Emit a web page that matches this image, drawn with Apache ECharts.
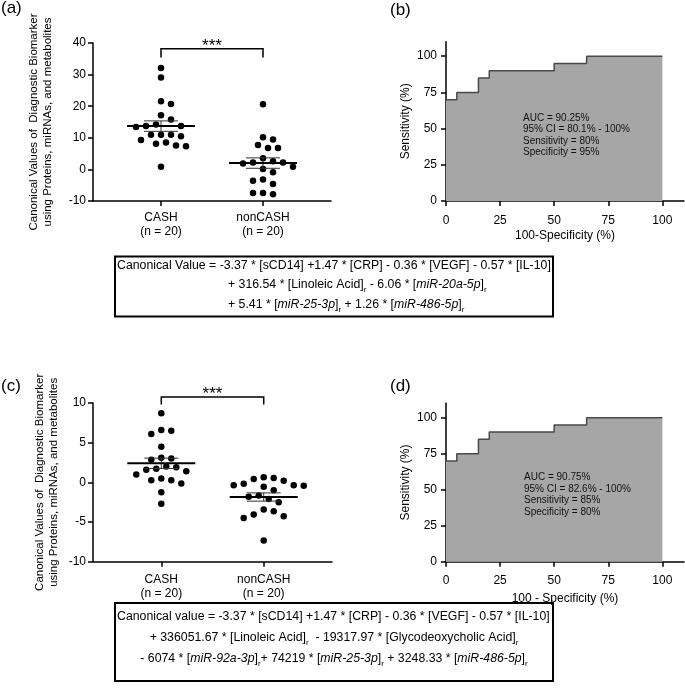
<!DOCTYPE html>
<html><head><meta charset="utf-8">
<script src="https://cdn.jsdelivr.net/npm/echarts@6/dist/echarts.min.js"></script>
<style>html,body{margin:0;padding:0;background:#fff}#c{width:685px;height:689px}</style>
</head><body><div id="c"></div>
<script>
// ---------- data ----------
const groups = ['CASH', 'nonCASH'];
const groupN = ['(n = 20)', '(n = 20)'];

const cashA = [32.1, 29.1, 21.6, 20.7, 17.1, 15.8, 14.2, 13.7, 13.7, 13.4, 11.0, 11.0, 11.0, 10.5, 9.3, 8.5, 8.1, 7.6, 7.3, 0.8];
const noncashA = [20.6, 10.2, 9.5, 7.7, 6.8, 6.8, 3.5, 2.6, 2.2, 2.2, 1.9, 0.8, 0.1, -0.9, -3.2, -3.6, -4.6, -7.5, -7.5, -7.9];
const meanA = [13.7, 2.0];
const semA = [1.65, 1.65];

const cashC = [8.7, 6.6, 6.5, 6.1, 4.5, 3.1, 3.0, 2.85, 2.0, 1.9, 1.7, 1.6, 1.4, 1.0, 0.5, 0.25, 0.25, -0.15, -1.25, -2.7];
const noncashC = [0.63, 0.54, 0.42, 0.2, -0.17, -0.38, -0.38, -0.42, -0.54, -1.0, -1.67, -1.8, -2.09, -2.5, -3.43, -3.64, -4.06, -4.27, -4.5, -7.32];
const meanC = [2.4, -1.85];
const semC = [0.65, 0.52];

const rocFprB = [0, 5, 15, 20, 50, 65, 100];
const rocTprB = [70, 75, 85, 90, 95, 100, 100];
const rocFprD = [0, 5, 15, 20, 50, 65, 100];
const rocTprD = [70, 75, 85, 90, 95, 100, 100];

const yTicksA = [-10, 0, 10, 20, 30, 40];
const yTicksC = [-10, -5, 0, 5, 10];
const rocTicks = [0, 25, 50, 75, 100];

const rocStatsB = ['AUC = 90.25%', '95% CI = 80.1% - 100%', 'Sensitivity = 80%', 'Specificity = 95%'];
const rocStatsD = ['AUC = 90.75%', '95% CI = 82.6% - 100%', 'Sensitivity = 85%', 'Specificity = 80%'];

const yTitleScatter = 'Canonical Values of  Diagnostic Biomarker\nusing Proteins, miRNAs, and metabolites';

// ---------- layout ----------
const F = "'Liberation Sans', Arial, Helvetica, sans-serif";
const G = {
  a: {left: 93, top: 43, width: 238, height: 158},
  b: {left: 446, top: 41.7, width: 238, height: 159.3},
  c: {left: 93, top: 403, width: 239, height: 158.7},
  d: {left: 446, top: 403.3, width: 238, height: 158.4}
};
const xMinS = 1 / 3, xMaxS = 8 / 3;

function swarm(vals, pxY, pxX, step, minD) {
  const order = vals.map((v, i) => i).sort((p, q) => vals[q] - vals[p]);
  const placed = [];
  const off = new Array(vals.length).fill(0);
  for (const i of order) {
    const y = vals[i] * pxY;
    for (let k = 0; k < 60; k++) {
      const m = k === 0 ? 0 : (k % 2 ? Math.ceil(k / 2) : -Math.ceil(k / 2));
      const x = m * step;
      if (placed.every(p => (p[0] - x) ** 2 + (p[1] - y) ** 2 >= minD * minD)) {
        placed.push([x, y]); off[i] = x / pxX; break;
      }
    }
  }
  return off;
}

function scatterData(lists, grid, yMin, yMax) {
  const pxY = grid.height / (yMax - yMin);
  const pxX = grid.width / (xMaxS - xMinS);
  const out = [];
  lists.forEach((vals, gi) => {
    const off = swarm(vals, pxY, pxX, 5, 9.2);
    vals.forEach((v, i) => out.push([gi + 1 + off[i], v]));
  });
  return out;
}

const axisLineS = {onZero: false, lineStyle: {color: '#000', width: 1.5}};
const tickS = {length: 5, lineStyle: {color: '#000', width: 1.5}};

function catX(gridIndex, margin) {
  return {
    type: 'value', gridIndex, min: xMinS, max: xMaxS,
    axisLine: axisLineS,
    axisTick: Object.assign({customValues: [1, 2]}, tickS),
    axisLabel: {
      customValues: [1, 2],
      formatter: v => groups[Math.round(v) - 1] + '\n' + groupN[Math.round(v) - 1],
      color: '#000', fontSize: 12, fontFamily: F, lineHeight: 13.5, margin
    },
    splitLine: {show: false}
  };
}
function valY(gridIndex, ticks, name, nameGap, nameSize, margin) {
  return {
    type: 'value', gridIndex, min: ticks[0], max: ticks[ticks.length - 1], interval: ticks[1] - ticks[0],
    axisLine: axisLineS, axisTick: tickS,
    axisLabel: {color: '#000', fontSize: 12, fontFamily: F, margin},
    splitLine: {show: false},
    name, nameLocation: 'middle', nameGap,
    nameTextStyle: {color: '#000', fontSize: nameSize, fontFamily: F, lineHeight: 14}
  };
}
function rocX(gridIndex, name, nameGap, margin) {
  return {
    type: 'value', gridIndex, min: 0, max: 110,
    axisLine: axisLineS,
    axisTick: Object.assign({customValues: rocTicks}, tickS),
    axisLabel: {customValues: rocTicks, color: '#000', fontSize: 12, fontFamily: F, margin},
    splitLine: {show: false},
    name, nameLocation: 'middle', nameGap,
    nameTextStyle: {color: '#000', fontSize: 12, fontFamily: F}
  };
}
function rocY(gridIndex) {
  return {
    type: 'value', gridIndex, min: 0, max: 110,
    axisLine: axisLineS,
    axisTick: Object.assign({customValues: rocTicks}, tickS),
    axisLabel: {customValues: rocTicks, color: '#000', fontSize: 12, fontFamily: F, margin: 9},
    splitLine: {show: false},
    name: 'Sensitivity (%)', nameLocation: 'middle', nameGap: 31,
    nameTextStyle: {color: '#000', fontSize: 12, fontFamily: F, lineHeight: 14}
  };
}

function meanSem(means, sems) {
  return means.map((m, i) => [i + 1, m, sems[i]]);
}
function meanSemRender(params, api) {
  const x = api.value(0), m = api.value(1), s = api.value(2);
  const c = api.coord([x, m]), hi = api.coord([x, m + s]), lo = api.coord([x, m - s]);
  const cap = 17, half = 34;
  return {
    type: 'group', children: [
      {type: 'line', shape: {x1: c[0], y1: hi[1], x2: c[0], y2: lo[1]}, style: {stroke: '#333', lineWidth: 1}},
      {type: 'line', shape: {x1: c[0] - cap, y1: hi[1], x2: c[0] + cap, y2: hi[1]}, style: {stroke: '#333', lineWidth: 1}},
      {type: 'line', shape: {x1: c[0] - cap, y1: lo[1], x2: c[0] + cap, y2: lo[1]}, style: {stroke: '#333', lineWidth: 1}},
      {type: 'line', shape: {x1: c[0] - half, y1: c[1], x2: c[0] + half, y2: c[1]}, style: {stroke: '#000', lineWidth: 2}}
    ]
  };
}
function bracketRender(params, api) {
  const p1 = api.coord([api.value(0), api.value(2)]);
  const p2 = api.coord([api.value(1), api.value(2)]);
  const e = api.coord([api.value(0), api.value(3)]);
  return {
    type: 'group', children: [
      {type: 'polyline', shape: {points: [[p1[0], e[1]], p1, p2, [p2[0], e[1]]]}, style: {stroke: '#000', lineWidth: 1.5, fill: null}},
      {type: 'text', x: (p1[0] + p2[0]) / 2, y: p1[1] + 6, style: {text: '***', align: 'center', verticalAlign: 'bottom', fontSize: 17, fontFamily: F, fill: '#000'}}
    ]
  };
}

function rocSeries(idx, fpr, tpr) {
  return {
    type: 'line', xAxisIndex: idx, yAxisIndex: idx, step: 'end', symbol: 'none', z: 2,
    data: fpr.map((x, i) => [x, tpr[i]]),
    lineStyle: {color: '#4a4a4a', width: 1.5},
    areaStyle: {color: '#a6a6a6', opacity: 1}
  };
}

const richBase = {
  t: {fontSize: 12.3, fontFamily: F, color: '#000', lineHeight: 18},
  i: {fontSize: 12.3, fontFamily: F, fontStyle: 'italic', color: '#000', lineHeight: 18},
  s: {fontSize: 8, fontFamily: F, color: '#000', lineHeight: 9, verticalAlign: 'bottom'}
};
const richStats = {
  a: {fontSize: 10, fontFamily: F, color: '#111', lineHeight: 11.4}
};
function ftext(str, x, y, align) {
  return {type: 'text', x, y, z: 100, silent: true, style: {text: str, align, verticalAlign: 'middle', rich: richBase, fill: '#000', fontFamily: F}};
}
function ptext(str, x, y) {
  return {type: 'text', x, y, z: 100, style: {text: str, align: 'left', verticalAlign: 'middle', fontSize: 17, fontFamily: F, fill: '#000'}};
}
function stext(lines, x, y) {
  return {type: 'text', x, y, z: 100, silent: true, style: {text: lines.map(l => '{a|' + l + '}').join('\n'), rich: richStats,
    align: 'left', verticalAlign: 'top', fontSize: 10, fontFamily: F, fill: '#111'}};
}

const option = {
  animation: false,
  backgroundColor: '#fff',
  grid: [G.a, G.b, G.c, G.d].map(g => Object.assign({containLabel: false}, g)),
  xAxis: [catX(0, 10.3), rocX(1, '100-Specificity (%)', 29, 14), catX(2, 11.5), rocX(3, '100 - Specificity (%)', 31, 13)],
  yAxis: [valY(0, yTicksA, yTitleScatter, 38.5, 11.5, 7), rocY(1), valY(2, yTicksC, yTitleScatter, 32, 11.5, 7), rocY(3)],
  series: [
    {type: 'scatter', xAxisIndex: 0, yAxisIndex: 0, symbolSize: 6.5, itemStyle: {color: '#000', opacity: 1}, z: 2,
     data: scatterData([cashA, noncashA], G.a, -10, 40)},
    {type: 'custom', xAxisIndex: 0, yAxisIndex: 0, z: 3, renderItem: meanSemRender, data: meanSem(meanA, semA)},
    {type: 'custom', xAxisIndex: 0, yAxisIndex: 0, z: 3, clip: false, renderItem: bracketRender, data: [[1, 2, 38.2, 35.4]]},
    rocSeries(1, rocFprB, rocTprB),
    {type: 'scatter', xAxisIndex: 2, yAxisIndex: 2, symbolSize: 6.5, itemStyle: {color: '#000', opacity: 1}, z: 2,
     data: scatterData([cashC, noncashC], G.c, -10, 10)},
    {type: 'custom', xAxisIndex: 2, yAxisIndex: 2, z: 3, renderItem: meanSemRender, data: meanSem(meanC, semC)},
    {type: 'custom', xAxisIndex: 2, yAxisIndex: 2, z: 3, clip: false, renderItem: bracketRender, data: [[1, 2, 10.75, 9.8]]},
    rocSeries(3, rocFprD, rocTprD)
  ],
  graphic: {
    elements: [
      ptext('(a)', 1, 8),
      ptext('(b)', 390, 10),
      ptext('(c)', 1, 386),
      ptext('(d)', 390, 386),
      stext(rocStatsB, 523, 112.5),
      stext(rocStatsD, 524, 472),
      {type: 'rect', z: 100, shape: {x: 115, y: 256.5, width: 438, height: 60}, style: {fill: null, stroke: '#000', lineWidth: 2}},
      ftext('{t|Canonical Value = -3.37 * [sCD14] +1.47 * [CRP] - 0.36 * [VEGF] - 0.57 * [IL-10]}', 117, 265.5, 'left'),
      ftext('{t|+ 316.54 * [Linoleic Acid]}{s|r}{t| - 6.06 * [}{i|miR-20a-5p}{t|]}{s|r}', 228, 285, 'left'),
      ftext('{t|+ 5.41 * [}{i|miR-25-3p}{t|]}{s|r}{t| + 1.26 * [}{i|miR-486-5p}{t|]}{s|r}', 228, 305, 'left'),
      {type: 'rect', z: 100, shape: {x: 115, y: 603, width: 438, height: 78}, style: {fill: null, stroke: '#000', lineWidth: 2}},
      ftext('{t|Canonical value = -3.37 * [sCD14] +1.47 * [CRP] - 0.36 * [VEGF] - 0.57 * [IL-10]}', 117, 617, 'left'),
      ftext('{t|+ 336051.67 * [Linoleic Acid]}{s|r}{t|  - 19317.97 * [Glycodeoxycholic Acid]}{s|r}', 334, 638, 'center'),
      ftext('{t|- 6074 * [}{i|miR-92a-3p}{t|]}{s|r}{t|+ 74219 * [}{i|miR-25-3p}{t|]}{s|r}{t| + 3248.33 * [}{i|miR-486-5p}{t|]}{s|r}', 334, 659, 'center')
    ]
  }
};

const chart = echarts.init(document.getElementById('c'), null, {renderer: 'canvas', width: 685, height: 689});
chart.setOption(option);
</script>
</body></html>
